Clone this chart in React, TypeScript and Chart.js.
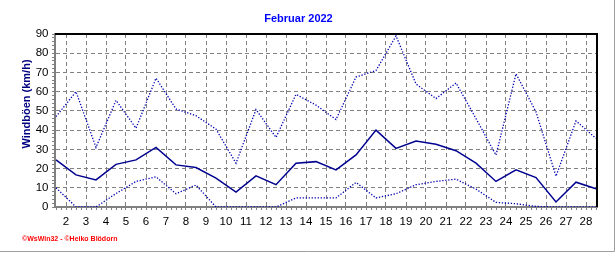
import React, { useEffect, useRef } from 'react';
import { Chart, registerables } from 'chart.js';

Chart.register(...registerables);

// ---- data ----
const DAYS = [1, 2, 3, 4, 5, 6, 7, 8, 9, 10, 11, 12, 13, 14, 15, 16, 17, 18, 19, 20, 21, 22, 23, 24, 25, 26, 27, 28];
const GUST_MAX = [47, 60, 31, 55.5, 41, 67, 51, 47.5, 40.5, 22.8, 50.7, 36.2, 58.6, 53, 45.5, 67.6, 71, 89, 64, 56.4, 64.5, 46, 27, 69.3, 49.5, 16, 44.8, 35.7];
const GUST_MEAN = [24.5, 16.7, 14.1, 22.2, 24.5, 31, 21.9, 20.5, 15, 7.8, 16.2, 11.6, 22.8, 23.6, 19.3, 27.1, 40, 30.5, 34.3, 32.6, 29.3, 22.8, 13.3, 19.3, 15.3, 2.6, 12.9, 9.5];
const GUST_MIN = [10, 0, 0, 7, 13.3, 15.7, 6.9, 11.4, 0, 0, 0, 0, 4.7, 4.7, 4.7, 12.8, 4.7, 6.9, 11.6, 13.3, 14.5, 9.3, 2.4, 1.7, 0.3, 0, 0, 0];
const X_TICK_LABELS = ['2', '3', '4', '5', '6', '7', '8', '9', '10', '11', '12', '13', '14', '15', '16', '17', '18', '19', '20', '21', '22', '23', '24', '25', '26', '27', '28'];
const Y_TICK_LABELS = ['0', '10', '20', '30', '40', '50', '60', '70', '80', '90'];
const TITLE = 'Februar 2022';
const Y_TITLE = 'Windböen (km/h)';
const FOOTER = '©WsWin32 - ©Heiko Blödorn';

const FONT = "'Liberation Sans', Arial, sans-serif";
const GRID = '#808080';

const xMajor = (v: number) => X_TICK_LABELS.some((l) => Number(l) - 0.5 === v);
const yMajor = (v: number) => Y_TICK_LABELS.some((l) => Number(l) === v);

const decor = {
  id: 'decor',
  afterDraw(chart: any) {
    const { ctx, chartArea } = chart;
    const { left, right, top, bottom } = chartArea;
    ctx.save();
    // top/right frame
    ctx.strokeStyle = '#000000';
    ctx.lineWidth = 2;
    ctx.beginPath();
    ctx.moveTo(left, top);
    ctx.lineTo(right, top);
    ctx.lineTo(right, bottom);
    ctx.stroke();
    // outer panel border
    ctx.strokeStyle = '#a0a0a0';
    ctx.lineWidth = 1;
    ctx.beginPath();
    ctx.moveTo(614.5, 0);
    ctx.lineTo(614.5, 251.5);
    ctx.lineTo(0, 251.5);
    ctx.stroke();
    // y title
    ctx.save();
    ctx.translate(30, 104);
    ctx.rotate(-Math.PI / 2);
    ctx.font = `bold 11px ${FONT}`;
    ctx.fillStyle = '#000080';
    ctx.textAlign = 'center';
    ctx.textBaseline = 'alphabetic';
    ctx.fillText(Y_TITLE, 0, 0);
    ctx.restore();
    // footer
    ctx.font = `bold 7px ${FONT}`;
    ctx.fillStyle = '#ff0000';
    ctx.textAlign = 'left';
    ctx.textBaseline = 'alphabetic';
    ctx.fillText(FOOTER, 22, 240.5);
    ctx.restore();
  },
};

export default function App() {
  const ref = useRef<HTMLCanvasElement | null>(null);

  useEffect(() => {
    document.body.style.margin = '0';
    const canvas = ref.current;
    if (!canvas) return;
    const pts = (arr: number[]) => DAYS.map((d, i) => ({ x: d, y: arr[i] }));
    const dotted = {
      borderColor: '#0000b0',
      borderWidth: 1.3,
      borderDash: [1.3, 1.7],
      pointRadius: 0,
      tension: 0,
      fill: false,
    };
    const chart = new Chart(canvas, {
      type: 'line',
      data: {
        datasets: [
          { label: 'Max', data: pts(GUST_MAX), ...dotted },
          {
            label: 'Mittel',
            data: pts(GUST_MEAN),
            borderColor: '#000090',
            borderWidth: 1.5,
            pointRadius: 0,
            tension: 0,
            fill: false,
          },
          { label: 'Min', data: pts(GUST_MIN), ...dotted },
        ],
      },
      options: {
        responsive: false,
        animation: false,
        events: [],
        layout: { padding: { left: 0, right: 19, top: 0, bottom: 0 } },
        plugins: {
          legend: { display: false },
          tooltip: { enabled: false },
          title: {
            display: true,
            text: TITLE,
            color: '#0000ff',
            font: { family: FONT, size: 11, weight: 'bold', lineHeight: 1.2 },
            padding: { top: 12.4, bottom: 8.4 },
          },
        },
        scales: {
          x: {
            type: 'linear',
            min: 0.95,
            max: 28.05,
            afterBuildTicks: (scale: any) => {
              const t: { value: number }[] = [];
              for (let v = DAYS[0]; v <= DAYS[DAYS.length - 1] + 1e-9; v += 0.25) t.push({ value: v });
              scale.ticks = t;
            },
            afterFit: (scale: any) => {
              scale.height = 46;
            },
            ticks: {
              autoSkip: false,
              maxRotation: 0,
              minRotation: 0,
              padding: 5,
              color: '#000000',
              font: { family: FONT, size: 11.5 },
              callback: (value: any) => {
                const v = Number(value);
                const l = X_TICK_LABELS.find((s) => Number(s) - 0.5 === v);
                return l ?? '';
              },
            },
            grid: {
              color: (c: any) => (c.tick && xMajor(c.tick.value) ? GRID : 'rgba(0,0,0,0)'),
              lineWidth: 1,
              tickColor: GRID,
              tickLength: 3,
              tickWidth: 1,
            },
            border: { display: true, color: GRID, width: 2, dash: [4, 3] },
          },
          y: {
            type: 'linear',
            min: 0,
            max: 90,
            afterBuildTicks: (scale: any) => {
              const t: { value: number }[] = [];
              for (let v = 0; v <= 90; v += 2) t.push({ value: v });
              scale.ticks = t;
            },
            afterFit: (scale: any) => {
              scale.width = 55;
            },
            ticks: {
              autoSkip: false,
              padding: 3.5,
              color: '#000000',
              font: { family: FONT, size: 11.5 },
              callback: (value: any) => {
                const v = Number(value);
                return Y_TICK_LABELS.find((s) => Number(s) === v) ?? '';
              },
            },
            grid: {
              color: (c: any) => (c.tick && yMajor(c.tick.value) ? GRID : 'rgba(0,0,0,0)'),
              lineWidth: 1,
              tickColor: GRID,
              tickLength: 3,
              tickWidth: 1,
            },
            border: { display: true, color: GRID, width: 2, dash: [4, 3] },
          },
        },
      },
      plugins: [decor],
    } as any);
    return () => chart.destroy();
  }, []);

  return <canvas ref={ref} width={616} height={253} style={{ display: 'block' }} />;
}
